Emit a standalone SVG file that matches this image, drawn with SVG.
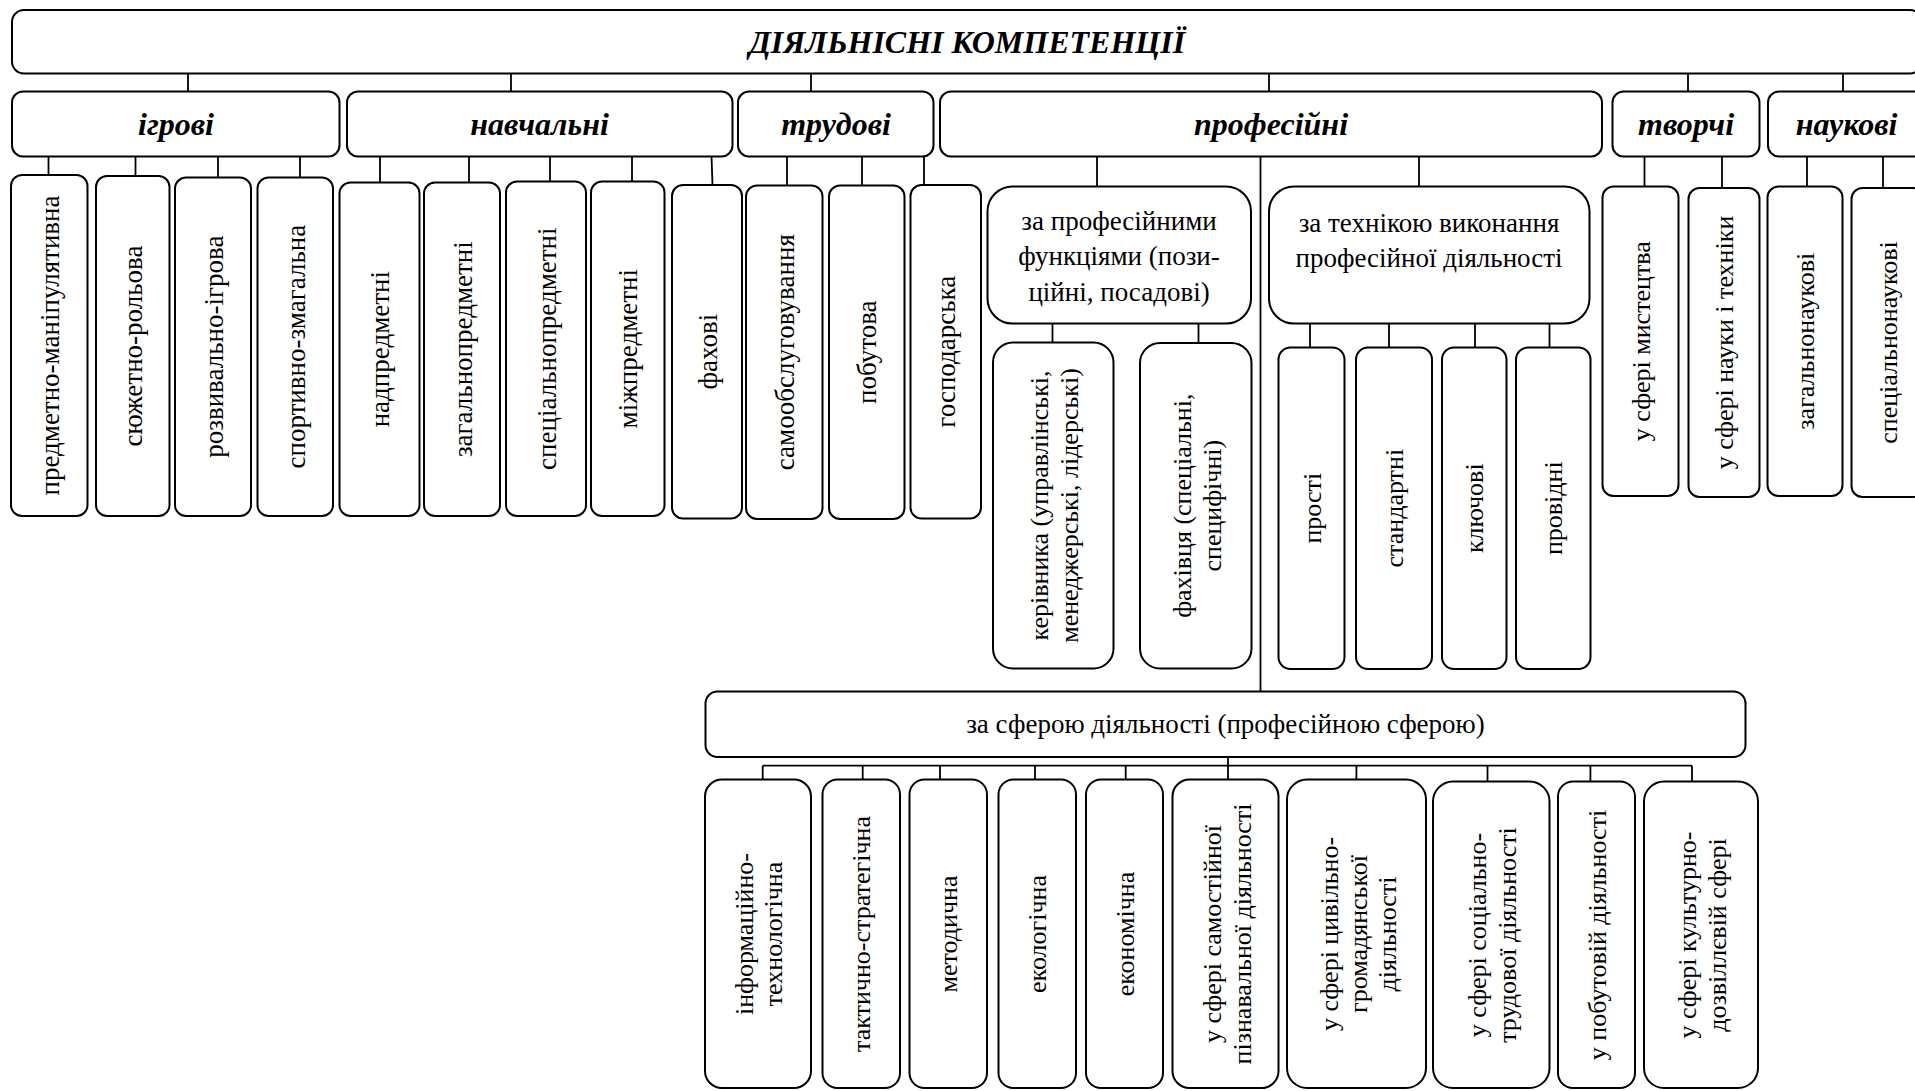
<svg xmlns="http://www.w3.org/2000/svg" width="1915" height="1091" viewBox="0 0 1915 1091">
<style>
.b{fill:#fff;stroke:#000;stroke-width:2}
.c line{stroke:#000;stroke-width:1.8}
text{font-family:"Liberation Serif","Times New Roman",serif;fill:#000}
.h{font-size:32px;font-weight:bold;font-style:italic;text-anchor:middle}
.t{font-size:27px;text-anchor:middle}
.v{font-size:26px;text-anchor:middle}
.w{font-size:27px;text-anchor:middle}
</style>
<rect width="1915" height="1091" fill="#fff"/>
<g class="c">
<line x1="188" y1="73" x2="188" y2="92"/>
<line x1="511" y1="73" x2="511" y2="92"/>
<line x1="811" y1="73" x2="811" y2="92"/>
<line x1="1269" y1="73" x2="1269" y2="92"/>
<line x1="1688" y1="73" x2="1688" y2="92"/>
<line x1="1843" y1="73" x2="1843" y2="92"/>
<line x1="48.5" y1="156" x2="48.5" y2="175"/>
<line x1="135.5" y1="156" x2="135.5" y2="176"/>
<line x1="218" y1="156" x2="218" y2="177.5"/>
<line x1="300" y1="156" x2="300" y2="177.5"/>
<line x1="380" y1="156" x2="380" y2="182.5"/>
<line x1="469" y1="156" x2="469" y2="182.5"/>
<line x1="550" y1="156" x2="550" y2="181.5"/>
<line x1="632" y1="156" x2="632" y2="181.5"/>
<line x1="711.5" y1="156" x2="712.5" y2="185"/>
<line x1="787" y1="156" x2="787" y2="185.5"/>
<line x1="862" y1="156" x2="862" y2="185.5"/>
<line x1="924" y1="156" x2="924" y2="185"/>
<line x1="1097" y1="156" x2="1097" y2="186.5"/>
<line x1="1419" y1="156" x2="1419" y2="186.5"/>
<line x1="1260.5" y1="156" x2="1260.5" y2="691.5"/>
<line x1="1052.5" y1="323.5" x2="1052.5" y2="342.5"/>
<line x1="1198.5" y1="323.5" x2="1198.5" y2="343"/>
<line x1="1310" y1="323.5" x2="1310" y2="347.5"/>
<line x1="1389" y1="323.5" x2="1389" y2="347.5"/>
<line x1="1475" y1="323.5" x2="1475" y2="347.5"/>
<line x1="1549.5" y1="323.5" x2="1549.5" y2="347.5"/>
<line x1="1644.5" y1="156" x2="1644.5" y2="186.5"/>
<line x1="1722" y1="156" x2="1722" y2="188"/>
<line x1="1807" y1="156" x2="1807" y2="186.5"/>
<line x1="1883" y1="156" x2="1883" y2="188"/>
<line x1="762.7" y1="765.7" x2="1692" y2="765.7"/>
<line x1="1228" y1="757" x2="1228" y2="779.5"/>
<line x1="762.7" y1="765.7" x2="762.7" y2="779.5"/>
<line x1="862.7" y1="765.7" x2="862.7" y2="779.5"/>
<line x1="940" y1="765.7" x2="940" y2="779.5"/>
<line x1="1035" y1="765.7" x2="1035" y2="779.5"/>
<line x1="1125.7" y1="765.7" x2="1125.7" y2="779.5"/>
<line x1="1356.4" y1="765.7" x2="1356.4" y2="779.5"/>
<line x1="1487.5" y1="765.7" x2="1487.5" y2="781.5"/>
<line x1="1590.4" y1="765.7" x2="1590.4" y2="781.5"/>
<line x1="1692" y1="765.7" x2="1692" y2="781.5"/>
</g>

<g id="n-root"><rect class="b" x="12" y="10" width="1910" height="63.5" rx="12"/><text class="h" x="967" y="52.5">ДІЯЛЬНІСНІ КОМПЕТЕНЦІЇ</text></g>

<g id="n-igrovi"><rect class="b" x="12" y="91.5" width="327.5" height="65" rx="11"/><text class="h" x="176" y="135">ігрові</text></g>
<g id="n-navchalni"><rect class="b" x="347" y="91.5" width="385.5" height="65" rx="11"/><text class="h" x="539.5" y="135">навчальні</text></g>
<g id="n-trudovi"><rect class="b" x="738" y="91.5" width="195.5" height="65" rx="11"/><text class="h" x="836" y="135">трудові</text></g>
<g id="n-profesiini"><rect class="b" x="940" y="91.5" width="662" height="65" rx="11"/><text class="h" x="1271" y="135">професійні</text></g>
<g id="n-tvorchi"><rect class="b" x="1612.5" y="91.5" width="147" height="65" rx="11"/><text class="h" x="1686" y="135">творчі</text></g>
<g id="n-naukovi"><rect class="b" x="1768" y="91.5" width="157" height="65" rx="11"/><text class="h" x="1846.5" y="135">наукові</text></g>

<g id="n-1"><rect class="b" x="11" y="175" width="76.5" height="341" rx="11"/><text class="w" transform="translate(49.2,345.5) rotate(-90)" y="9.5">предметно-маніпулятивна</text></g>
<g id="n-2"><rect class="b" x="96" y="176" width="73.5" height="340" rx="11"/><text class="w" transform="translate(132.7,346) rotate(-90)" y="9.5">сюжетно-рольова</text></g>
<g id="n-3"><rect class="b" x="175" y="177.5" width="76" height="338.5" rx="11"/><text class="w" transform="translate(213,346.7) rotate(-90)" y="9.5">розвивально-ігрова</text></g>
<g id="n-4"><rect class="b" x="257.5" y="177.5" width="75.5" height="338.5" rx="11"/><text class="w" transform="translate(295.2,346.7) rotate(-90)" y="9.5">спортивно-змагальна</text></g>
<g id="n-5"><rect class="b" x="339.5" y="182.5" width="80" height="333.5" rx="11"/><text class="w" transform="translate(379.5,349.2) rotate(-90)" y="9.5">надпредметні</text></g>
<g id="n-6"><rect class="b" x="424" y="182.5" width="76" height="333.5" rx="11"/><text class="w" transform="translate(462,349.2) rotate(-90)" y="9.5">загальнопредметні</text></g>
<g id="n-7"><rect class="b" x="506" y="181.5" width="80" height="334.5" rx="11"/><text class="w" transform="translate(546,348.7) rotate(-90)" y="9.5">спеціальнопредметні</text></g>
<g id="n-8"><rect class="b" x="591" y="181.5" width="73.5" height="334.5" rx="11"/><text class="w" transform="translate(627.7,348.7) rotate(-90)" y="9.5">міжпредметні</text></g>
<g id="n-9"><rect class="b" x="672" y="185" width="70" height="333.5" rx="11"/><text class="w" transform="translate(707,351.7) rotate(-90)" y="9.5">фахові</text></g>
<g id="n-10"><rect class="b" x="746" y="185.5" width="76.5" height="333.5" rx="11"/><text class="w" transform="translate(784.2,352.2) rotate(-90)" y="9.5">самообслуговування</text></g>
<g id="n-11"><rect class="b" x="829" y="185.5" width="75.5" height="333.5" rx="11"/><text class="w" transform="translate(866.7,352.2) rotate(-90)" y="9.5">побутова</text></g>
<g id="n-12"><rect class="b" x="910.5" y="185" width="70.5" height="333.5" rx="11"/><text class="w" transform="translate(945.7,351.7) rotate(-90)" y="9.5">господарська</text></g>

<g id="n-funk"><rect class="b" x="987.5" y="186.5" width="263.5" height="137" rx="25"/><text class="t"><tspan x="1119" y="230">за професійними</tspan><tspan x="1119" y="265.4">функціями (пози-</tspan><tspan x="1119" y="300.5">ційні, посадові)</tspan></text></g>
<g id="n-tekh"><rect class="b" x="1269" y="186.5" width="320.5" height="137" rx="25"/><text class="t"><tspan x="1429" y="231.5">за технікою виконання</tspan><tspan x="1429" y="267">професійної діяльності</tspan></text></g>
<g id="n-kerivnyka"><rect class="b" x="993" y="342.5" width="120.5" height="326" rx="20"/><text class="v" transform="translate(1053,505.5) rotate(-90)"><tspan x="0" y="-5">керівника (управлінські,</tspan><tspan x="0" y="25">менеджерські, лідерські)</tspan></text></g>
<g id="n-fakhivtsia"><rect class="b" x="1140" y="343" width="111.5" height="325.5" rx="20"/><text class="v" transform="translate(1195.7,505.7) rotate(-90)"><tspan x="0" y="-5">фахівця (спеціальні,</tspan><tspan x="0" y="25">специфічні)</tspan></text></g>
<g id="n-prosti"><rect class="b" x="1278.5" y="347.5" width="66" height="321.5" rx="12"/><text class="v" transform="translate(1311.5,508.2) rotate(-90)" y="9">прості</text></g>
<g id="n-standartni"><rect class="b" x="1356" y="347.5" width="76" height="321.5" rx="12"/><text class="v" transform="translate(1394,508.2) rotate(-90)" y="9">стандартні</text></g>
<g id="n-kliuchovi"><rect class="b" x="1442" y="347.5" width="64.5" height="321.5" rx="12"/><text class="v" transform="translate(1474.2,508.2) rotate(-90)" y="9">ключові</text></g>
<g id="n-providni"><rect class="b" x="1516" y="347.5" width="74.5" height="321.5" rx="12"/><text class="v" transform="translate(1553.2,508.2) rotate(-90)" y="9">провідні</text></g>

<g id="n-mystetstva"><rect class="b" x="1602.5" y="186.5" width="76" height="309.5" rx="11"/><text class="v" transform="translate(1640.5,341.2) rotate(-90)" y="9">у сфері мистецтва</text></g>
<g id="n-nauky"><rect class="b" x="1688.5" y="188" width="71" height="309" rx="11"/><text class="v" transform="translate(1724,342.5) rotate(-90)" y="9">у сфері науки і техніки</text></g>
<g id="n-zagalnonaukovi"><rect class="b" x="1767.5" y="186.5" width="75" height="309.5" rx="11"/><text class="v" transform="translate(1805,341.2) rotate(-90)" y="9">загальнонаукові</text></g>
<g id="n-spetsnaukovi"><rect class="b" x="1851.5" y="188" width="72.5" height="309" rx="11"/><text class="v" transform="translate(1887.7,342.5) rotate(-90)" y="9">спеціальнонаукові</text></g>

<g id="n-sfera"><rect class="b" x="705.5" y="691.5" width="1040" height="65.5" rx="12"/><text class="t" x="1225.5" y="733">за сферою діяльності (професійною сферою)</text></g>

<g id="n-b1"><rect class="b" x="705" y="779.5" width="106" height="308.5" rx="17"/><text class="v" transform="translate(758,934) rotate(-90)"><tspan x="0" y="-5">інформаційно-</tspan><tspan x="0" y="24">технологічна</tspan></text></g>
<g id="n-b2"><rect class="b" x="822.5" y="779.5" width="77.5" height="308.5" rx="15"/><text class="v" transform="translate(861.2,934) rotate(-90)" y="9">тактично-стратегічна</text></g>
<g id="n-b3"><rect class="b" x="909.5" y="779.5" width="77.5" height="308.5" rx="15"/><text class="v" transform="translate(948.2,934) rotate(-90)" y="9">методична</text></g>
<g id="n-b4"><rect class="b" x="998.5" y="779.5" width="77.5" height="308.5" rx="15"/><text class="v" transform="translate(1037.2,934) rotate(-90)" y="9">екологічна</text></g>
<g id="n-b5"><rect class="b" x="1086" y="779.5" width="77" height="308.5" rx="15"/><text class="v" transform="translate(1124.5,934) rotate(-90)" y="9">економічна</text></g>
<g id="n-b6"><rect class="b" x="1172.5" y="779.5" width="106" height="308.5" rx="17"/><text class="v" transform="translate(1225.5,934) rotate(-90)"><tspan x="0" y="-5">у сфері самостійної</tspan><tspan x="0" y="25">пізнавальної діяльності</tspan></text></g>
<g id="n-b7"><rect class="b" x="1287" y="779.5" width="139" height="308.5" rx="20"/><text class="v" transform="translate(1356.5,934) rotate(-90)"><tspan x="0" y="-19">у сфері цивільно-</tspan><tspan x="0" y="10">громадянської</tspan><tspan x="0" y="39">діяльності</tspan></text></g>
<g id="n-b8"><rect class="b" x="1433" y="781.5" width="116.5" height="306.5" rx="20"/><text class="v" transform="translate(1491.2,935) rotate(-90)"><tspan x="0" y="-5">у сфері соціально-</tspan><tspan x="0" y="25">трудової діяльності</tspan></text></g>
<g id="n-b9"><rect class="b" x="1558" y="781.5" width="77" height="306.5" rx="15"/><text class="v" transform="translate(1596.5,935) rotate(-90)" y="9">у побутовій діяльності</text></g>
<g id="n-b10"><rect class="b" x="1644" y="781.5" width="114" height="306.5" rx="20"/><text class="v" transform="translate(1701,935) rotate(-90)"><tspan x="0" y="-5">у сфері культурно-</tspan><tspan x="0" y="25">дозвіллєвій сфері</tspan></text></g>
</svg>
